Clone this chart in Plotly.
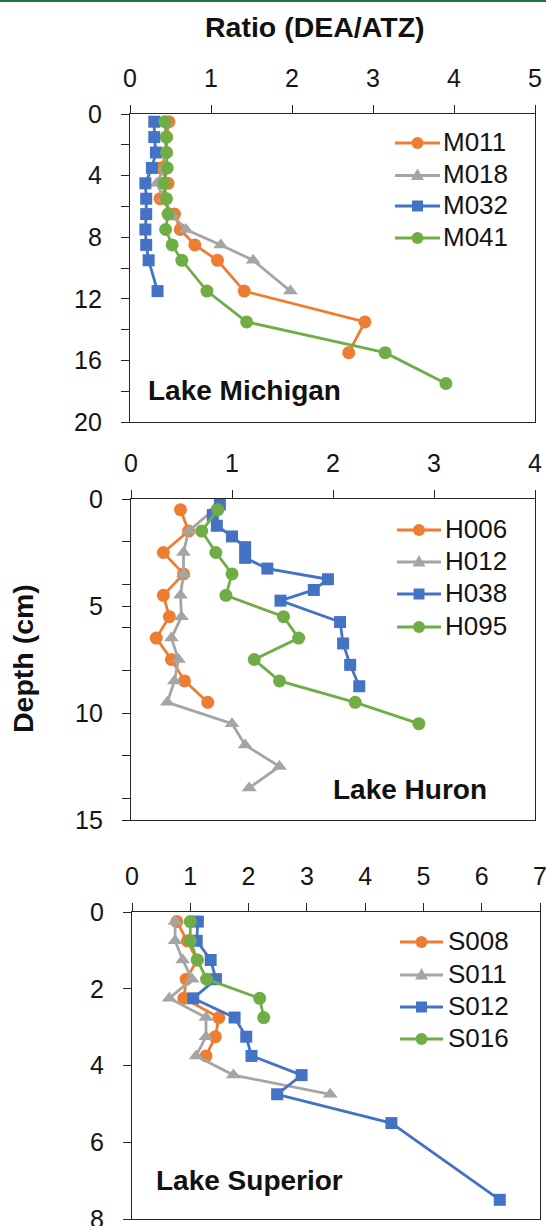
import plotly.graph_objects as go

W, H = 546, 1226
FONT = "Liberation Sans, Arial, sans-serif"
ORANGE, GRAY, BLUE, GREEN = "#ED7D31", "#A5A5A5", "#4472C4", "#70AD47"

# ---------------- data ----------------
# Lake Michigan
m011_depth = [0.5, 1.5, 2.5, 3.5, 4.5, 5.5, 6.5, 7.5, 8.5, 9.5, 11.5, 13.5, 15.5]
m011_ratio = [0.48, 0.45, 0.45, 0.38, 0.47, 0.37, 0.55, 0.62, 0.80, 1.08, 1.41, 2.90, 2.70]
m018_depth = [0.5, 1.5, 2.5, 3.5, 4.5, 5.5, 6.5, 7.5, 8.5, 9.5, 11.5]
m018_ratio = [0.44, 0.44, 0.44, 0.42, 0.33, 0.42, 0.51, 0.69, 1.12, 1.52, 1.98]
m032_depth = [0.5, 1.5, 2.5, 3.5, 4.5, 5.5, 6.5, 7.5, 8.5, 9.5, 11.5]
m032_ratio = [0.30, 0.30, 0.32, 0.27, 0.19, 0.20, 0.20, 0.19, 0.20, 0.23, 0.34]
m041_depth = [0.5, 1.5, 2.5, 3.5, 4.5, 5.5, 6.5, 7.5, 8.5, 9.5, 11.5, 13.5, 15.5, 17.5]
m041_ratio = [0.43, 0.45, 0.45, 0.46, 0.42, 0.45, 0.47, 0.44, 0.52, 0.64, 0.95, 1.44, 3.15, 3.90]

# Lake Huron
h006_depth = [0.5, 1.5, 2.5, 3.5, 4.5, 5.5, 6.5, 7.5, 8.5, 9.5]
h006_ratio = [0.49, 0.57, 0.32, 0.52, 0.32, 0.38, 0.25, 0.40, 0.53, 0.76]
h012_depth = [0.5, 1.5, 2.5, 3.5, 4.5, 5.5, 6.5, 7.5, 8.5, 9.5, 10.5, 11.5, 12.5, 13.5]
h012_ratio = [0.82, 0.57, 0.52, 0.52, 0.49, 0.50, 0.40, 0.47, 0.43, 0.36, 1.00, 1.13, 1.47, 1.17]
h038_depth = [0.25, 0.75, 1.25, 1.75, 2.25, 2.75, 3.25, 3.75, 4.25, 4.75, 5.75, 6.75, 7.75, 8.75]
h038_ratio = [0.88, 0.81, 0.85, 1.00, 1.13, 1.13, 1.35, 1.95, 1.81, 1.48, 2.07, 2.10, 2.17, 2.26]
h095_depth = [0.5, 1.5, 2.5, 3.5, 4.5, 5.5, 6.5, 7.5, 8.5, 9.5, 10.5]
h095_ratio = [0.86, 0.70, 0.84, 1.00, 0.94, 1.51, 1.66, 1.22, 1.47, 2.22, 2.85]

# Lake Superior
s008_depth = [0.25, 0.75, 1.25, 1.75, 2.25, 2.75, 3.25, 3.75]
s008_ratio = [0.77, 0.95, 1.12, 0.93, 0.89, 1.49, 1.43, 1.27]
s011_depth = [0.25, 0.75, 1.25, 1.75, 2.25, 2.75, 3.25, 3.75, 4.25, 4.75]
s011_ratio = [0.74, 0.74, 0.87, 1.03, 0.64, 1.27, 1.27, 1.10, 1.74, 3.40]
s012_depth = [0.25, 0.75, 1.25, 1.75, 2.25, 2.75, 3.25, 3.75, 4.25, 4.75, 5.5, 7.5]
s012_ratio = [1.13, 1.11, 1.35, 1.44, 1.05, 1.76, 1.96, 2.05, 2.91, 2.49, 4.45, 6.31]
s016_depth = [0.25, 0.75, 1.25, 1.75, 2.25, 2.75]
s016_ratio = [1.00, 1.00, 1.12, 1.28, 2.19, 2.26]

panels = [
    dict(series=[("M011", m011_ratio, m011_depth, ORANGE, "circle"),
                 ("M018", m018_ratio, m018_depth, GRAY, "triangle-up"),
                 ("M032", m032_ratio, m032_depth, BLUE, "square"),
                 ("M041", m041_ratio, m041_depth, GREEN, "circle")],
         px=(130, 535), py=(114, 422), xr=5, yr=20, ydt=4, yminor=2,
         label="Lake Michigan", lab_xy=(146, 390),
         leg_rows=[143, 175.5, 206, 238], leg_x=(395, 440, 443)),
    dict(series=[("H006", h006_ratio, h006_depth, ORANGE, "circle"),
                 ("H012", h012_ratio, h012_depth, GRAY, "triangle-up"),
                 ("H038", h038_ratio, h038_depth, BLUE, "square"),
                 ("H095", h095_ratio, h095_depth, GREEN, "circle")],
         px=(131, 535), py=(499, 820), xr=4, yr=15, ydt=5, yminor=2,
         label="Lake Huron", lab_xy=(331, 789),
         leg_rows=[530, 562, 594, 627], leg_x=(397, 441, 445)),
    dict(series=[("S008", s008_ratio, s008_depth, ORANGE, "circle"),
                 ("S011", s011_ratio, s011_depth, GRAY, "triangle-up"),
                 ("S012", s012_ratio, s012_depth, BLUE, "square"),
                 ("S016", s016_ratio, s016_depth, GREEN, "circle")],
         px=(132, 540), py=(912, 1219), xr=7, yr=8, ydt=2, yminor=None,
         label="Lake Superior", lab_xy=(154, 1180),
         leg_rows=[942, 975, 1007, 1039], leg_x=(400, 443, 448)),
]


def fx(v):
    return v / W


def fy(v):
    return 1 - v / H


fig = go.Figure()
annotations = []
shapes = [dict(type="line", xref="paper", yref="paper", x0=0, x1=1,
               y0=fy(1), y1=fy(1), line=dict(color="#217346", width=2))]
AX = "#262626"
TXT = "#141414"
MSIZE = {"circle": 13, "square": 12, "triangle-up": 13}
for i, p in enumerate(panels):
    n = "" if i == 0 else str(i + 1)
    for name, xs, ys, col, sym in p["series"]:
        fig.add_trace(go.Scatter(
            x=xs, y=ys, name=name, mode="lines+markers", showlegend=False,
            line=dict(color=col, width=2.8),
            marker=dict(color=col, symbol=sym, size=MSIZE[sym], line=dict(width=0)),
            xaxis="x" + n, yaxis="y" + n))
    xd = [fx(p["px"][0]), fx(p["px"][1])]
    yd = [fy(p["py"][1]), fy(p["py"][0])]
    common = dict(ticks="outside", ticklen=8, tickwidth=1.3, tickcolor=AX,
                  showline=True, linecolor=AX, linewidth=1.4, mirror=True,
                  showgrid=False, zeroline=False, automargin=False,
                  ticklabeloverflow="allow",
                  tickfont=dict(family=FONT, size=25, color=TXT))
    xa = dict(domain=xd, range=[0, p["xr"]], dtick=1, side="top", anchor="y" + n,
              ticklabelstandoff=8, **common)
    ya = dict(domain=yd, range=[p["yr"], 0], dtick=p["ydt"], anchor="x" + n,
              ticklabelstandoff=14, **common)
    if p["yminor"]:
        ya["minor"] = dict(dtick=p["yminor"], ticks="outside", ticklen=8,
                           tickwidth=1.3, tickcolor=AX, showgrid=False)
    fig.update_layout(**{"xaxis" + n: xa, "yaxis" + n: ya})

    # legend (drawn inside the panel, top right)
    lx0, lx1, tx = p["leg_x"]
    cx = (lx0 + lx1) / 2
    for (name, xs, ys, col, sym), ry in zip(p["series"], p["leg_rows"]):
        shapes.append(dict(type="line", xref="paper", yref="paper",
                           x0=fx(lx0), x1=fx(lx1), y0=fy(ry), y1=fy(ry),
                           line=dict(color=col, width=2.8)))
        if sym == "circle":
            r = 6
            shapes.append(dict(type="circle", xref="paper", yref="paper",
                               x0=fx(cx - r), x1=fx(cx + r), y0=fy(ry + r), y1=fy(ry - r),
                               fillcolor=col, line=dict(width=0)))
        elif sym == "square":
            r = 5.5
            shapes.append(dict(type="rect", xref="paper", yref="paper",
                               x0=fx(cx - r), x1=fx(cx + r), y0=fy(ry + r), y1=fy(ry - r),
                               fillcolor=col, line=dict(width=0)))
        else:
            path = "M{},{} L{},{} L{},{} Z".format(
                fx(cx - 6.5), fy(ry + 4.5), fx(cx + 6.5), fy(ry + 4.5), fx(cx), fy(ry - 7))
            shapes.append(dict(type="path", xref="paper", yref="paper", path=path,
                               fillcolor=col, line=dict(width=0)))
        annotations.append(dict(
            text=name, x=fx(tx - 2), y=fy(ry - 1), xref="paper", yref="paper",
            xanchor="left", yanchor="middle", showarrow=False,
            font=dict(family=FONT, size=26, color=TXT)))

    annotations.append(dict(
        text=p["label"], x=fx(p["lab_xy"][0]), y=fy(p["lab_xy"][1]),
        xref="paper", yref="paper", xanchor="left", yanchor="middle",
        showarrow=False, font=dict(family=FONT, size=28, color="#111", weight="bold")))

annotations.append(dict(
    text="Ratio (DEA/ATZ)", x=fx(315), y=fy(27), xref="paper", yref="paper",
    xanchor="center", yanchor="middle", showarrow=False,
    font=dict(family=FONT, size=28.5, color="#111", weight="bold")))
annotations.append(dict(
    text="Depth (cm)", x=fx(23), y=fy(659), xref="paper", yref="paper",
    xanchor="center", yanchor="middle", textangle=-90, showarrow=False,
    font=dict(family=FONT, size=28.5, color="#111", weight="bold")))

fig.update_layout(
    template="none",
    width=W, height=H, margin=dict(l=0, r=0, t=0, b=0, pad=0, autoexpand=False),
    paper_bgcolor="white", plot_bgcolor="white", showlegend=False,
    annotations=annotations, shapes=shapes,
)

fig.write_html("out.html")
